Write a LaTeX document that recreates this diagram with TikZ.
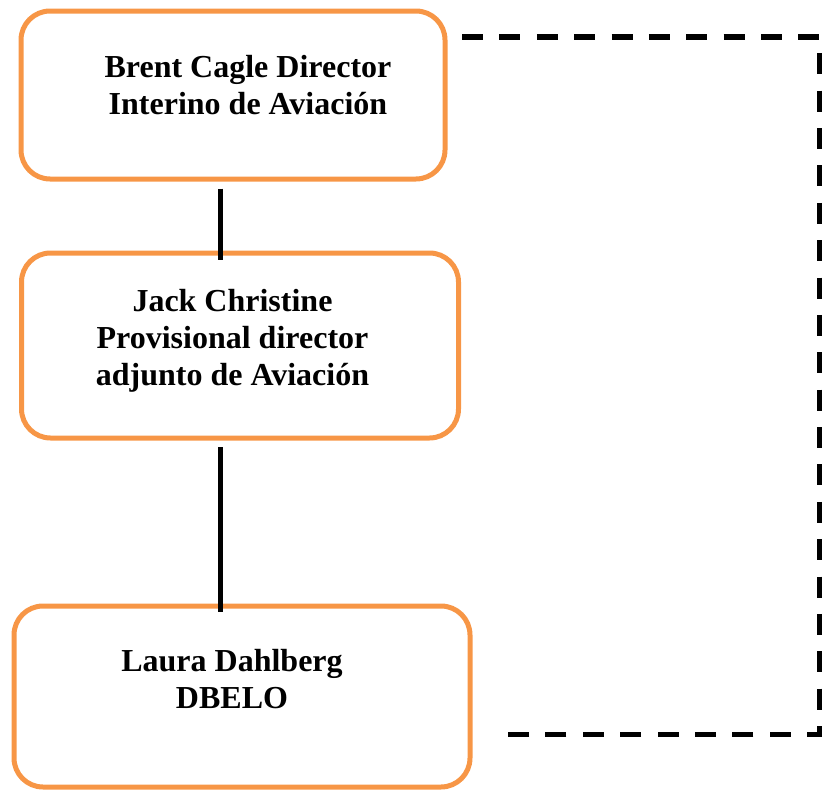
\documentclass[tikz,border=0pt]{standalone}
\usepackage{fontspec}
\setmainfont{Liberation Serif}
\usetikzlibrary{calc}

\definecolor{boxorange}{HTML}{F79646}
\tikzset{
  orgbox/.style={draw=boxorange, line width=5pt, rounded corners=29pt, inner sep=0pt},
  orgtext/.style={align=center, inner sep=0pt, font=\fontsize{32}{37}\selectfont\bfseries},
  orgline/.style={line width=4.5pt},
  dashlink/.style={line width=5.5pt, dash pattern=on 21pt off 16.375pt}
}

\begin{document}
\begin{tikzpicture}[x=1pt,y=-1pt]
\useasboundingbox (0,0) rectangle (828,790);
% Boxes, top to bottom
\node[orgbox, minimum width=424pt, minimum height=168pt] (cagle) at (233,95) {};
\node[orgbox, minimum width=437pt, minimum height=185pt] (christine) at (240,345.5) {};
\node[orgbox, minimum width=456pt, minimum height=181pt] (dahlberg) at (242,696.5) {};
% Names and posts
\node[orgtext] (cagletext) at (248,85) {Brent Cagle Director\\Interino de Aviación};
\node[orgtext] (christinetext) at (232.5,341) {Jack Christine\\Provisional director\\adjunto de Aviación};
\node[orgtext] (dahlbergtext) at (232,679) {Laura Dahlberg\\DBELO};
% Solid line down the chart
\coordinate (spine) at (220.5,0);
\draw[orgline] ($(spine |- cagle.south)+(0,7)$) -- ($(spine |- christine.north)+(0,9.5)$);
\draw[orgline] ($(spine |- christine.south)+(0,6.5)$) -- ($(spine |- dahlberg.north)+(0,8.5)$);
% Dashed link from director to DBELO
\coordinate (dashstart) at (462,37);
\coordinate (dashend) at (508,734.5);
\coordinate (dashside) at (819.5,0);
\draw[dashlink] (dashstart) -| (dashside |- dashend) -- (dashend);
\end{tikzpicture}
\end{document}
